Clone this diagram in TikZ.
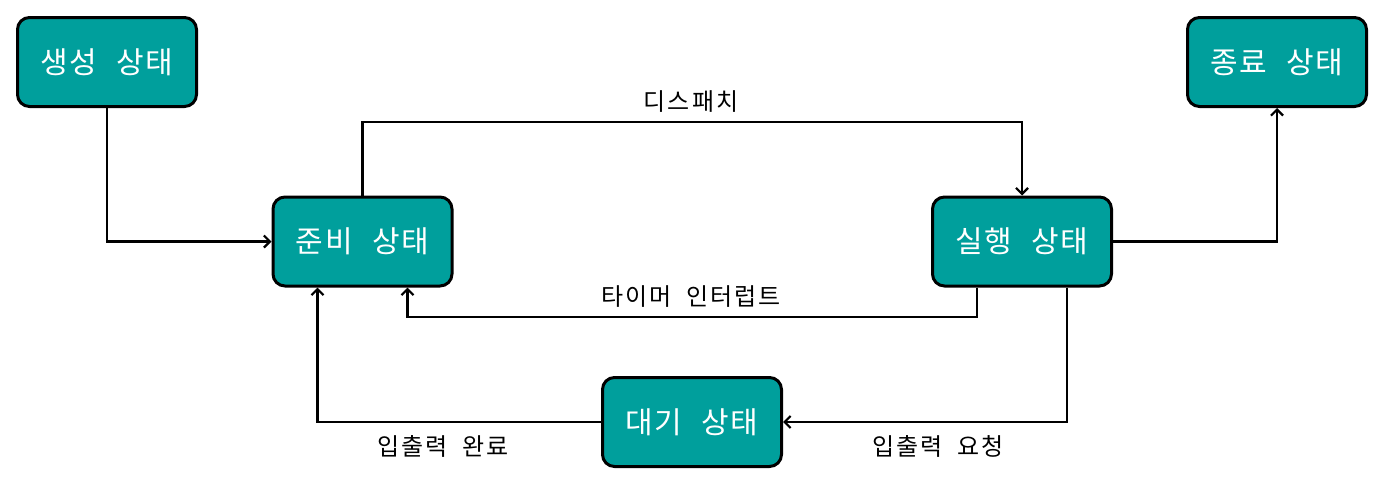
\documentclass[tikz,border=0pt]{standalone}
\usepackage{fontspec}
\setmainfont[WordSpace=2.4,LetterSpace=5]{Noto Sans CJK KR}
\newfontfamily\lblfont[WordSpace=1.9,LetterSpace=9]{Noto Sans CJK KR}
\usetikzlibrary{arrows.meta}
\definecolor{teal}{HTML}{009F9C}
\tikzset{
  state/.style={draw=black, line width=3pt, rounded corners=12pt, fill=teal,
    minimum width=179pt, minimum height=89pt, text=white, font=\fontsize{30}{32}\selectfont, inner sep=0pt},
  conn/.style={draw=black, line width=2.2pt, -{Straight Barb[length=6pt,width=12pt,line width=2.2pt]}},
  lbl/.style={font=\lblfont\fontsize{24}{26}\selectfont, inner sep=0pt}
}
\begin{document}
\begin{tikzpicture}[x=1pt,y=-1pt]
\useasboundingbox (0,0) rectangle (1385,485);
\node[state] (create) at (107,62) {생성 상태};
\node[state] (ready) at (362.5,241.5) {준비 상태};
\node[state] (run) at (1022,241.5) {실행 상태};
\node[state] (end) at (1277,62) {종료 상태};
\node[state] (wait) at (692,422) {대기 상태};

\draw[conn] (create.south) |- (ready.west);
\draw[conn] (ready.north) |- (692,122) -| (run.north);
\draw[conn] (run.east) -| (end.south);
\draw[conn] ([xshift=-45pt]run.south) |- (692,317) -| ([xshift=45pt]ready.south);
\draw[conn] ([xshift=45pt]run.south) |- (wait.east);
\draw[conn] (wait.west) -| ([xshift=-45pt]ready.south);

\node[lbl] (l1) at (691,102) {디스패치};
\node[lbl] (l2) at (691,297) {타이머 인터럽트};
\node[lbl] (l3) at (938,446) {입출력 요청};
\node[lbl] (l4) at (443,446) {입출력 완료};
\end{tikzpicture}
\end{document}
